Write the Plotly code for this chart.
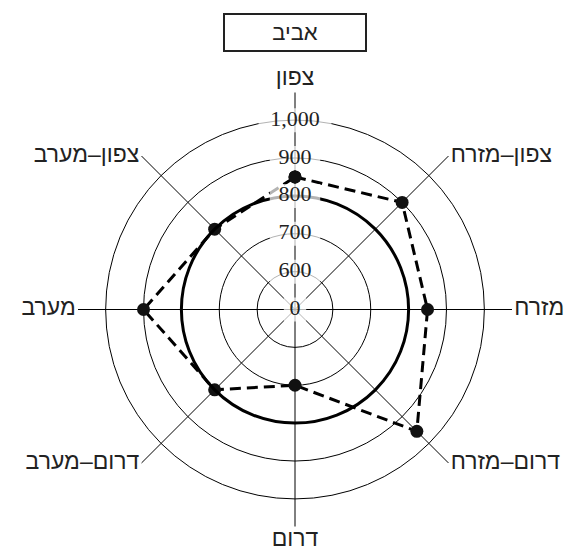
import plotly.graph_objects as go

# Data
directions = ["צפון", "צפון–מזרח", "מזרח", "דרום–מזרח", "דרום", "דרום–מערב", "מערב", "צפון–מערב"]
spring_values = [850, 900, 850, 955, 700, 800, 900, 800]
baseline_value = 800
radial_tick_values = [500, 600, 700, 800, 900, 1000]
radial_tick_labels = ["0", "600", "700", "800", "900", "1,000"]
title_text = "אביב"

W, H = 576, 549
OFF = 8  # page body margin
cx, cy = 295 - OFF, 309.5 - OFF
R = 217
dom = dict(x=[(cx - R) / W, (cx + R) / W],
           y=[(H - cy - R) / H, (H - cy + R) / H])
rrange = [500, 1073]
label_pos = ["top center", "middle right", "middle right", "middle right",
             "bottom center", "middle left", "middle left", "middle left"]

fig = go.Figure()

# dashed series (base polar)
fig.add_trace(go.Scatterpolar(
    r=spring_values + spring_values[:1],
    theta=directions + directions[:1],
    mode="lines+markers",
    line=dict(color="black", width=3, dash="11px,6px"),
    marker=dict(color="#111", size=13),
    showlegend=False, subplot="polar",
))

# radial tick labels with white background (overlay polar)
label_widths = [16, 36, 36, 36, 36, 52]
fig.add_trace(go.Scatterpolar(
    r=radial_tick_values,
    theta=[directions[0]] * len(radial_tick_values),
    mode="markers+text",
    text=radial_tick_labels,
    textposition="middle center",
    textfont=dict(family="Liberation Serif", size=22, color="#222"),
    marker=dict(symbol="line-ew", size=label_widths, color="white",
                line=dict(color="white", width=24)),
    hoverinfo="skip", showlegend=False, subplot="polar2",
))

# direction labels at the end of each spoke
fig.add_trace(go.Scatterpolar(
    r=[rrange[1]] * len(directions),
    theta=directions,
    mode="markers+text",
    text=directions,
    textposition=label_pos,
    textfont=dict(family="Liberation Sans", size=23, color="#222"),
    marker=dict(size=2, opacity=0),
    cliponaxis=False,
    hoverinfo="skip", showlegend=False, subplot="polar2",
))

angular_common = dict(
    type="category",
    categoryarray=directions,
    direction="clockwise",
    rotation=90,
    showline=False,
    ticks="",
    showticklabels=False,
)

fig.update_layout(
    width=W, height=H,
    margin=dict(l=0, r=0, t=0, b=0),
    paper_bgcolor="white",
    plot_bgcolor="white",
    polar=dict(
        domain=dom,
        bgcolor="white",
        radialaxis=dict(
            range=rrange,
            tickvals=radial_tick_values[1:],
            showticklabels=False,
            showline=False,
            ticks="",
            gridcolor="black",
            gridwidth=1,
        ),
        angularaxis=dict(
            **angular_common,
            gridcolor="black",
            gridwidth=1,
        ),
    ),
    polar2=dict(
        domain=dom,
        bgcolor="rgba(0,0,0,0)",
        radialaxis=dict(
            range=rrange,
            tickvals=[baseline_value],
            showticklabels=False,
            showline=False,
            ticks="",
            gridcolor="black",
            gridwidth=3,
        ),
        angularaxis=dict(
            **angular_common,
            showgrid=False,
        ),
    ),
    annotations=[dict(
        text=title_text,
        xref="paper", yref="paper",
        x=(295 - OFF) / W, y=(H - 33 + OFF) / H,
        xanchor="center", yanchor="middle",
        showarrow=False,
        font=dict(family="Liberation Sans", size=22, color="#222"),
        bordercolor="#222", borderwidth=2,
        width=138, height=33,
    )],
)

fig.write_html("out.html")
